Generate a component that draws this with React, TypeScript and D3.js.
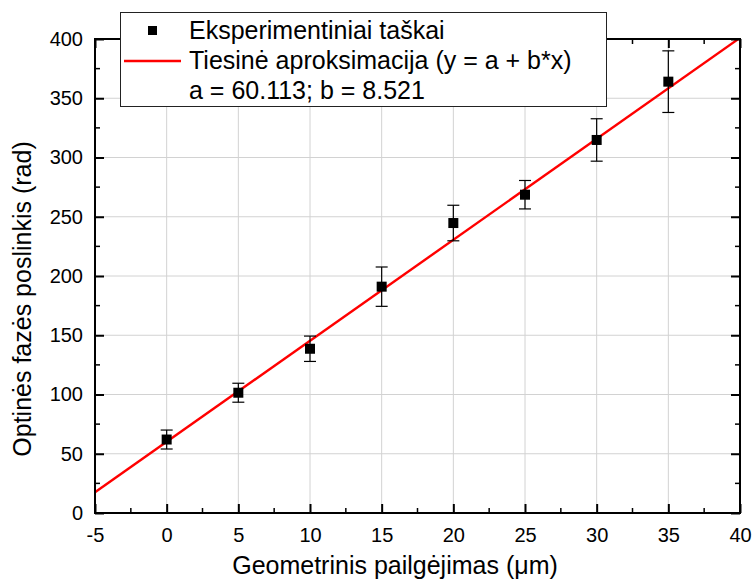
import React, { useEffect, useRef } from 'react';
import * as d3 from 'd3';

// Experiment data
const elongation = [0, 5, 10, 15, 20, 25, 30, 35];
const phaseShift = [62, 101.5, 138.6, 191, 244.7, 268.6, 314.8, 364];
const phaseError = [8, 8, 10.7, 16.6, 15, 12, 17.9, 26];

// Fit parameters
const fitA = 60.113;
const fitB = 8.521;

const xTicks = [-5, 0, 5, 10, 15, 20, 25, 30, 35, 40];
const yTicks = [0, 50, 100, 150, 200, 250, 300, 350, 400];

const legendLines = [
    'Eksperimentiniai taškai',
    'Tiesinė aproksimacija (y = a + b*x)',
    'a = 60.113; b = 8.521',
];

const App: React.FC = () => {
    const chartRef = useRef<SVGSVGElement>(null);

    useEffect(() => {
        if (!chartRef.current) return;
        d3.select(chartRef.current).selectAll('*').remove();

        const svg = d3.select(chartRef.current);
        const font = 'Liberation Sans, Arial, sans-serif';

        const left = 95, right = 740, top = 39, bottom = 513;

        const x = d3.scaleLinear().domain([-5, 40]).range([left, right]);
        const y = d3.scaleLinear().domain([0, 400]).range([bottom, top]);

        svg.append('rect')
            .attr('width', 752).attr('height', 583).attr('fill', 'white');

        // Grid
        svg.append('g').selectAll('line')
            .data(xTicks.slice(1, -1))
            .enter().append('line')
            .attr('x1', d => x(d)).attr('x2', d => x(d))
            .attr('y1', top).attr('y2', bottom)
            .attr('stroke', '#d2d2d2').attr('stroke-width', 1);
        svg.append('g').selectAll('line')
            .data(yTicks.slice(1, -1))
            .enter().append('line')
            .attr('x1', left).attr('x2', right)
            .attr('y1', d => y(d)).attr('y2', d => y(d))
            .attr('stroke', '#d2d2d2').attr('stroke-width', 1);

        // Clip for fit line
        svg.append('clipPath').attr('id', 'plot-clip')
            .append('rect')
            .attr('x', left).attr('y', top)
            .attr('width', right - left).attr('height', bottom - top);

        const fitLine = d3.line<number>()
            .x(d => x(d))
            .y(d => y(fitA + fitB * d));

        svg.append('path')
            .datum([-5, 40])
            .attr('d', fitLine)
            .attr('clip-path', 'url(#plot-clip)')
            .attr('fill', 'none')
            .attr('stroke', '#ff0000')
            .attr('stroke-width', 2.4);

        // Error bars
        const eb = svg.append('g').attr('stroke', 'black').attr('stroke-width', 1.2);
        elongation.forEach((d, i) => {
            const cx = x(d);
            const y1 = y(phaseShift[i] + phaseError[i]);
            const y2 = y(phaseShift[i] - phaseError[i]);
            eb.append('line').attr('x1', cx).attr('x2', cx).attr('y1', y1).attr('y2', y2);
            eb.append('line').attr('x1', cx - 6).attr('x2', cx + 6).attr('y1', y1).attr('y2', y1);
            eb.append('line').attr('x1', cx - 6).attr('x2', cx + 6).attr('y1', y2).attr('y2', y2);
        });

        // Markers
        svg.append('g').selectAll('rect')
            .data(elongation)
            .enter().append('rect')
            .attr('x', d => x(d) - 5)
            .attr('y', (d, i) => y(phaseShift[i]) - 5)
            .attr('width', 10).attr('height', 10)
            .attr('fill', 'black');

        // Axes (ticks inward)
        const axisBottom = d3.axisBottom(x).tickValues(xTicks).tickSize(-9).tickPadding(15)
            .tickFormat(d => String(d));
        const axisLeft = d3.axisLeft(y).tickValues(yTicks).tickSize(-9).tickPadding(12)
            .tickFormat(d => String(d));
        const axisTop = d3.axisTop(x).tickValues(xTicks).tickSize(-9).tickFormat(() => '');
        const axisRight = d3.axisRight(y).tickValues(yTicks).tickSize(-9).tickFormat(() => '');

        const minorX = d3.range(-2.5, 40, 5);
        const minorY = d3.range(25, 400, 50);

        const styleAxis = (g: d3.Selection<SVGGElement, unknown, null, undefined>) => {
            g.selectAll('.domain').attr('stroke', 'black').attr('stroke-width', 2);
            g.selectAll('.tick line').attr('stroke', 'black').attr('stroke-width', 2);
            g.selectAll('.tick text')
                .attr('font-family', font)
                .attr('font-size', '20px')
                .attr('fill', 'black');
        };

        const gB = svg.append('g').attr('transform', `translate(0,${bottom})`).call(axisBottom);
        gB.call(styleAxis);
        const gL = svg.append('g').attr('transform', `translate(${left},0)`).call(axisLeft);
        gL.call(styleAxis);
        const gT = svg.append('g').attr('transform', `translate(0,${top})`).call(axisTop);
        gT.call(styleAxis);
        const gR = svg.append('g').attr('transform', `translate(${right},0)`).call(axisRight);
        gR.call(styleAxis);

        [gB, gL, gT, gR].forEach(g => g.selectAll('.domain').attr('d', null));
        svg.append('rect')
            .attr('x', left).attr('y', top)
            .attr('width', right - left).attr('height', bottom - top)
            .attr('fill', 'none').attr('stroke', 'black').attr('stroke-width', 2);

        const minor = svg.append('g').attr('stroke', 'black').attr('stroke-width', 1.5);
        minorX.forEach(d => {
            minor.append('line').attr('x1', x(d)).attr('x2', x(d)).attr('y1', bottom).attr('y2', bottom - 5);
            minor.append('line').attr('x1', x(d)).attr('x2', x(d)).attr('y1', top).attr('y2', top + 5);
        });
        minorY.forEach(d => {
            minor.append('line').attr('x1', left).attr('x2', left + 5).attr('y1', y(d)).attr('y2', y(d));
            minor.append('line').attr('x1', right).attr('x2', right - 5).attr('y1', y(d)).attr('y2', y(d));
        });

        // Axis titles
        svg.append('text')
            .attr('x', 395).attr('y', 574)
            .attr('text-anchor', 'middle')
            .attr('font-family', font).attr('font-size', '25px')
            .text('Geometrinis pailgėjimas (μm)');

        svg.append('text')
            .attr('transform', 'translate(31,299) rotate(-90)')
            .attr('text-anchor', 'middle')
            .attr('font-family', font).attr('font-size', '25px')
            .text('Optinės fazės poslinkis (rad)');

        // Legend
        const lg = svg.append('g');
        lg.append('rect')
            .attr('x', 120.5).attr('y', 12.5)
            .attr('width', 486).attr('height', 94)
            .attr('fill', 'white').attr('stroke', '#222').attr('stroke-width', 1);
        lg.append('rect')
            .attr('x', 148).attr('y', 26).attr('width', 9).attr('height', 9)
            .attr('fill', 'black');
        lg.append('line')
            .attr('x1', 124).attr('x2', 181).attr('y1', 61).attr('y2', 61)
            .attr('stroke', '#ff0000').attr('stroke-width', 2.4);
        lg.selectAll('text')
            .data(legendLines)
            .enter().append('text')
            .attr('x', 189)
            .attr('y', (d, i) => 39 + i * 30)
            .attr('font-family', font).attr('font-size', '25px')
            .attr('fill', 'black')
            .text(d => d);
    }, []);

    return (
        <svg ref={chartRef} width={752} height={583}
            style={{ position: 'absolute', left: 0, top: 0 }} />
    );
};

export default App;
